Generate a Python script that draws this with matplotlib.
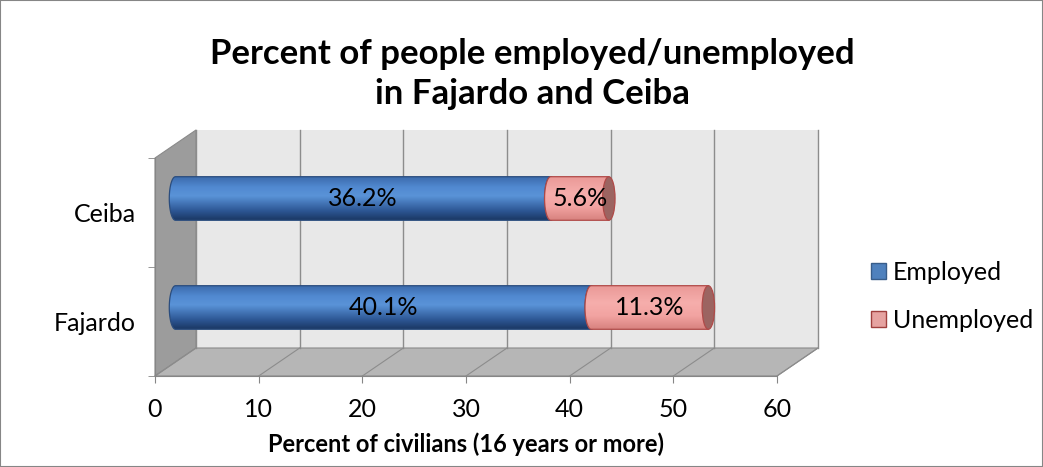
import numpy as np
import matplotlib.pyplot as plt
from matplotlib.patches import Polygon, Ellipse, Patch, Rectangle
from matplotlib.colors import LinearSegmentedColormap

# data
places = ["Fajardo", "Ceiba"]
employed = [40.1, 36.2]
unemployed = [11.3, 5.6]
x_ticks = [0, 10, 20, 30, 40, 50, 60]
series_names = ["Employed", "Unemployed"]

plt.rcParams['font.family'] = ['Lato', 'DejaVu Sans']

W, H = 1043, 467
fig = plt.figure(figsize=(W / 100, H / 100), dpi=100)
ax = fig.add_axes([155 / W, 1 - 376 / H, 622 / W, 218 / H])
ax.set_xlim(0, 60)
ax.set_ylim(0, 2)

# depth offset of the fake 3d box (in data units)
dx = 41 / (622 / 60)
dy = 28 / 109

# walls
side = Polygon([(0, 0), (0, 2), (dx, 2 + dy), (dx, dy)], closed=True,
               facecolor="#9c9c9c", edgecolor="#8a8a8a", lw=0.8, clip_on=False, zorder=0.5)
floor = Polygon([(0, 0), (60, 0), (60 + dx, dy), (dx, dy)], closed=True,
                facecolor="#b6b6b6", edgecolor="#8a8a8a", lw=0.8, clip_on=False, zorder=0.5)
back = Rectangle((dx, dy), 60, 2, facecolor="#e8e8e8", edgecolor="none", clip_on=False, zorder=0.4)
ax.add_patch(back)
ax.add_patch(side)
ax.add_patch(floor)
for xt in x_ticks:
    ax.plot([xt + dx, xt + dx], [dy, 2 + dy], color="#8c8c8c", lw=1, clip_on=False, zorder=0.6)
    ax.plot([xt, xt + dx], [0, dy], color="#8c8c8c", lw=0.8, clip_on=False, zorder=0.6)

blue_cmap = LinearSegmentedColormap.from_list(
    "blue", [(0, "#1b3864"), (0.2, "#2c5592"), (0.55, "#5a93d8"), (0.75, "#5189d0"), (1, "#3a69aa")])
red_cmap = LinearSegmentedColormap.from_list(
    "red", [(0, "#d8827f"), (0.3, "#f2a3a1"), (0.6, "#f6aeac"), (1, "#e99896")])


def cylinder(x0, x1, yc, h, a, cmap, edge, capcol, z):
    t = np.linspace(np.pi / 2, 3 * np.pi / 2, 40)
    left = np.column_stack([x0 + a * np.cos(t), yc + h * np.sin(t)])
    pts = np.vstack([left, [[x1, yc - h], [x1, yc + h]]])
    poly = Polygon(pts, closed=True, facecolor="none", edgecolor=edge, lw=0.9, zorder=z + 0.1)
    ax.add_patch(poly)
    grad = np.linspace(0, 1, 256).reshape(-1, 1)
    im = ax.imshow(grad, cmap=cmap, origin="lower", extent=[x0 - a, x1, yc - h, yc + h],
                   aspect="auto", interpolation="bilinear", zorder=z)
    im.set_clip_path(poly)
    cap = Ellipse((x1, yc), 2 * a, 2 * h, facecolor=capcol, edgecolor=edge, lw=0.9, zorder=z + 0.2)
    ax.add_patch(cap)


bar_h = 0.2
cap_a = 0.6
for i, name in enumerate(places):
    yc = i + 0.5 + dy / 2
    x0 = dx / 2
    e = employed[i]
    u = unemployed[i]
    cylinder(x0, x0 + e, yc, bar_h, cap_a, blue_cmap, "#2b4d7e", "#3d6aa6", 3 + i)
    cylinder(x0 + e, x0 + e + u, yc, bar_h, cap_a, red_cmap, "#b04a48", "#9c6461", 3.5 + i)
    ax.text(x0 + e / 2, yc, f"{e}%", ha="center", va="center", fontsize=18, zorder=10)
    ax.text(x0 + e + u / 2, yc, f"{u}%", ha="center", va="center", fontsize=18, zorder=10)

ax.set_aspect("auto")
ax.set_xlim(0, 60)
ax.set_ylim(0, 2)
ax.set_facecolor("none")

for s in ["top", "right"]:
    ax.spines[s].set_visible(False)
for s in ["left", "bottom"]:
    ax.spines[s].set_color("#868686")
    ax.spines[s].set_zorder(1)

ax.set_xticks(x_ticks)
ax.set_xticklabels([str(v) for v in x_ticks], fontsize=18)
ax.tick_params(axis="x", length=5, color="#868686", pad=11)
ax.set_yticks([0.5, 1.5])
ax.set_yticklabels(places, fontsize=18)
ax.tick_params(axis="y", which="major", length=0, pad=14)
ax.set_yticks([0, 1, 2], minor=True)
ax.tick_params(axis="y", which="minor", length=5, color="#868686")

ax.set_xlabel("Percent of civilians (16 years or more)", fontsize=17, fontweight="bold", labelpad=8)

fig.text(532 / W, 1 - 74 / H, "Percent of people employed/unemployed\nin Fajardo and Ceiba",
         ha="center", va="center", fontsize=25, fontweight="bold", linespacing=1.3)

handles = [Patch(facecolor="#4f81bd", edgecolor="#385d8a", label=series_names[0]),
           Patch(facecolor="#e6a3a1", edgecolor="#a0403e", label=series_names[1])]
fig.legend(handles=handles, loc="center left", bbox_to_anchor=(848 / W, 1 - 296 / H),
           frameon=False, fontsize=18, handlelength=0.6, handleheight=0.6,
           handletextpad=0.3, labelspacing=1.0)

fig.patches.append(Rectangle((0, 0), 1, 1, transform=fig.transFigure, fill=False,
                             edgecolor="#868686", lw=1.5))

fig.savefig("out.png", dpi=100)
